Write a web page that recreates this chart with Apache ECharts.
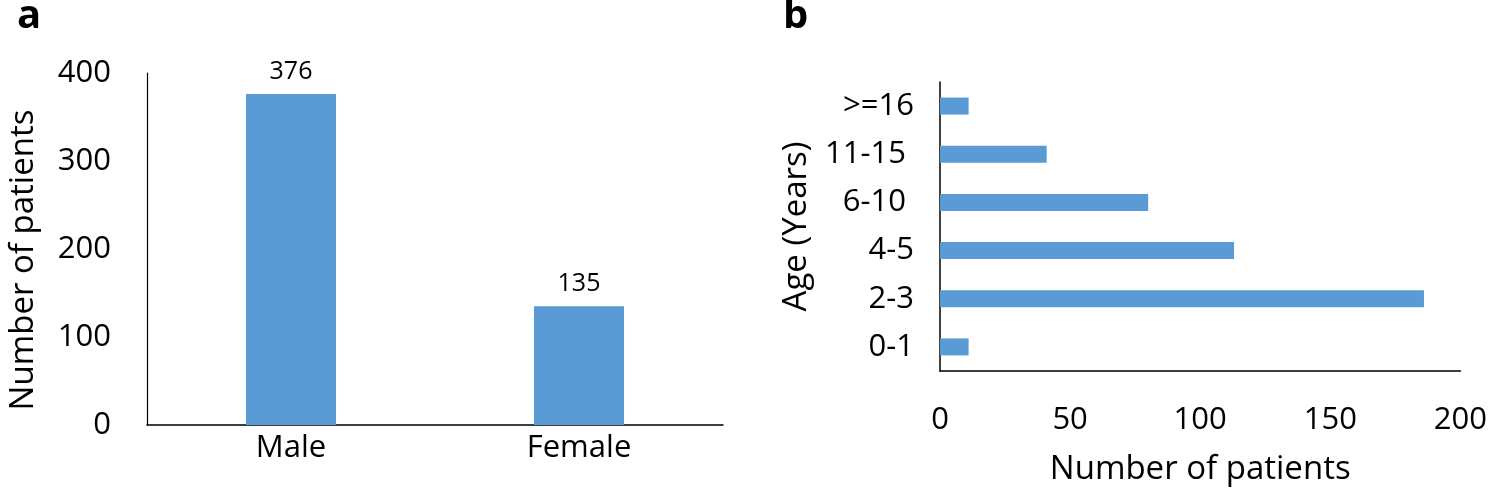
<!DOCTYPE html>
<html><head><meta charset="utf-8">
<script src="https://cdn.jsdelivr.net/npm/echarts@6/dist/echarts.min.js"></script>
<style>html,body{margin:0;padding:0;background:#fff}#c{width:1490px;height:499px}</style>
</head><body><div id="c"></div>
<script>
var sexCategories = ['Male', 'Female'];
var sexValues = [376, 135];
var ageCategories = ['0-1', '2-3', '4-5', '6-10 ', '11-15 ', '>=16'];
var ageValues = [11, 186, 113, 80, 41, 11];
var sexTicks = [0, 100, 200, 300, 400];
var ageTicks = [0, 50, 100, 150, 200];

var FONT = 'Open Sans';
var BLUE = '#5B9BD5';
var chart = echarts.init(document.getElementById('c'));
chart.setOption({
  animation: false,
  textStyle: {fontFamily: FONT},
  title: [
    {text: 'a', left: 12, top: -8, textStyle: {fontSize: 40, fontWeight: 'bold', color: '#000', fontFamily: FONT}},
    {text: 'b', left: 778, top: -8, textStyle: {fontSize: 40, fontWeight: 'bold', color: '#000', fontFamily: FONT}}
  ],
  grid: [
    {left: 147, top: 73, width: 576, height: 352, containLabel: false},
    {left: 940, top: 82, width: 522, height: 289, containLabel: false}
  ],
  xAxis: [
    {gridIndex: 0, type: 'category', data: sexCategories,
     axisLine: {lineStyle: {color: '#000', width: 1.5}}, axisTick: {show: false},
     axisLabel: {color: '#000', fontSize: 31, margin: 8}},
    {gridIndex: 1, type: 'value', min: ageTicks[0], max: ageTicks[ageTicks.length-1], interval: 50,
     name: 'Number of patients', nameLocation: 'middle', nameGap: 82,
     nameTextStyle: {color: '#000', fontSize: 33, fontFamily: FONT},
     splitLine: {show: false},
     axisLine: {show: true, lineStyle: {color: '#000', width: 1.5}}, axisTick: {show: false},
     axisLabel: {color: '#000', fontSize: 31, margin: 34}}
  ],
  yAxis: [
    {gridIndex: 0, type: 'value', min: sexTicks[0], max: sexTicks[sexTicks.length-1], interval: 100,
     name: 'Number of patients', nameLocation: 'middle', nameGap: 107,
     nameTextStyle: {color: '#000', fontSize: 33, fontFamily: FONT, padding: [0, 22, 0, 0]},
     splitLine: {show: false},
     axisLine: {show: true, lineStyle: {color: '#000', width: 1.2}}, axisTick: {show: false},
     axisLabel: {color: '#000', fontSize: 31, margin: 36}},
    {gridIndex: 1, type: 'category', data: ageCategories,
     name: 'Age (Years)', nameLocation: 'middle', nameGap: 127,
     nameTextStyle: {color: '#000', fontSize: 33, fontFamily: FONT},
     axisLine: {show: true, lineStyle: {color: '#000', width: 1.5}}, axisTick: {show: false},
     axisLabel: {color: '#000', fontSize: 31, margin: 26}}
  ],
  series: [
    {type: 'bar', xAxisIndex: 0, yAxisIndex: 0, data: sexValues, barWidth: 90,
     itemStyle: {color: BLUE},
     label: {show: true, position: 'top', distance: 10, color: '#000', fontSize: 25, fontFamily: FONT}},
    {type: 'bar', xAxisIndex: 1, yAxisIndex: 1, data: ageValues, barWidth: 17,
     itemStyle: {color: BLUE}}
  ]
});
</script></body></html>
